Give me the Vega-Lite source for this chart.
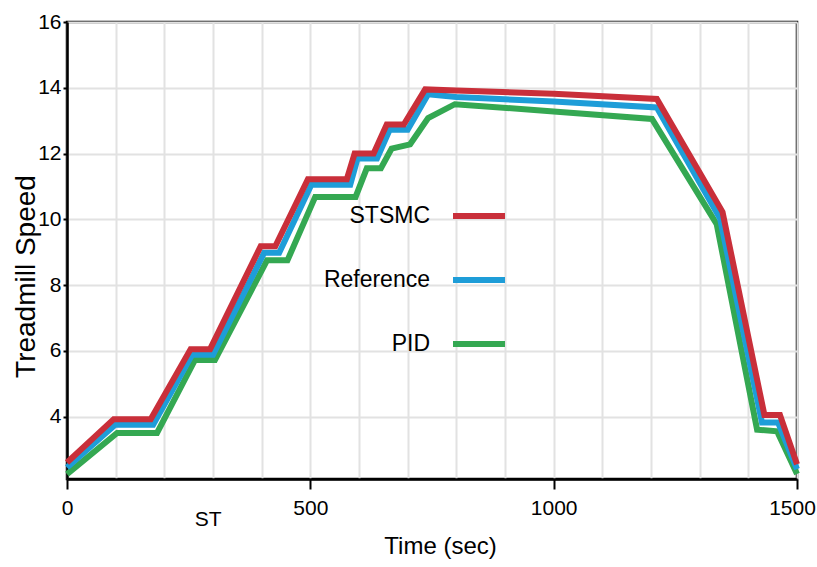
{
  "$schema": "https://vega.github.io/schema/vega-lite/v6.json",
  "width": 730,
  "height": 457,
  "autosize": {"type": "none"},
  "padding": {"left": 67, "top": 22, "right": 20, "bottom": 88},
  "background": "white",
  "config": {
    "view": {"stroke": "black", "strokeWidth": 2.5},
    "axis": {
      "domainColor": "black",
      "domainWidth": 2.5,
      "gridColor": "#e2e2e2",
      "gridWidth": 2,
      "tickColor": "black",
      "labelColor": "black",
      "titleColor": "black",
      "labelFont": "Liberation Sans, Arial",
      "titleFont": "Liberation Sans, Arial"
    }
  },
  "datasets": {
    "speed": [
      {"time": 0, "speed": 2.25, "series": "PID"},
      {"time": 103, "speed": 3.5, "series": "PID"},
      {"time": 185, "speed": 3.5, "series": "PID"},
      {"time": 263, "speed": 5.72, "series": "PID"},
      {"time": 304, "speed": 5.72, "series": "PID"},
      {"time": 411, "speed": 8.75, "series": "PID"},
      {"time": 453, "speed": 8.75, "series": "PID"},
      {"time": 510, "speed": 10.68, "series": "PID"},
      {"time": 593, "speed": 10.68, "series": "PID"},
      {"time": 616, "speed": 11.55, "series": "PID"},
      {"time": 645, "speed": 11.55, "series": "PID"},
      {"time": 667, "speed": 12.15, "series": "PID"},
      {"time": 705, "speed": 12.28, "series": "PID"},
      {"time": 742, "speed": 13.08, "series": "PID"},
      {"time": 797, "speed": 13.5, "series": "PID"},
      {"time": 1000, "speed": 13.28, "series": "PID"},
      {"time": 1202, "speed": 13.05, "series": "PID"},
      {"time": 1335, "speed": 9.85, "series": "PID"},
      {"time": 1418, "speed": 3.6, "series": "PID"},
      {"time": 1459, "speed": 3.55, "series": "PID"},
      {"time": 1500, "speed": 2.25, "series": "PID"},

      {"time": 0, "speed": 2.45, "series": "Reference"},
      {"time": 99, "speed": 3.75, "series": "Reference"},
      {"time": 177, "speed": 3.75, "series": "Reference"},
      {"time": 257, "speed": 5.88, "series": "Reference"},
      {"time": 300, "speed": 5.88, "series": "Reference"},
      {"time": 405, "speed": 8.98, "series": "Reference"},
      {"time": 436, "speed": 8.98, "series": "Reference"},
      {"time": 502, "speed": 11.05, "series": "Reference"},
      {"time": 582, "speed": 11.05, "series": "Reference"},
      {"time": 597, "speed": 11.85, "series": "Reference"},
      {"time": 637, "speed": 11.85, "series": "Reference"},
      {"time": 663, "speed": 12.72, "series": "Reference"},
      {"time": 700, "speed": 12.72, "series": "Reference"},
      {"time": 742, "speed": 13.8, "series": "Reference"},
      {"time": 800, "speed": 13.72, "series": "Reference"},
      {"time": 1000, "speed": 13.58, "series": "Reference"},
      {"time": 1212, "speed": 13.4, "series": "Reference"},
      {"time": 1342, "speed": 10.02, "series": "Reference"},
      {"time": 1428, "speed": 3.82, "series": "Reference"},
      {"time": 1461, "speed": 3.82, "series": "Reference"},
      {"time": 1500, "speed": 2.4, "series": "Reference"},

      {"time": 0, "speed": 2.6, "series": "STSMC"},
      {"time": 96, "speed": 3.92, "series": "STSMC"},
      {"time": 172, "speed": 3.92, "series": "STSMC"},
      {"time": 254, "speed": 6.05, "series": "STSMC"},
      {"time": 294, "speed": 6.05, "series": "STSMC"},
      {"time": 398, "speed": 9.18, "series": "STSMC"},
      {"time": 428, "speed": 9.18, "series": "STSMC"},
      {"time": 495, "speed": 11.22, "series": "STSMC"},
      {"time": 575, "speed": 11.22, "series": "STSMC"},
      {"time": 591, "speed": 12.0, "series": "STSMC"},
      {"time": 630, "speed": 12.0, "series": "STSMC"},
      {"time": 657, "speed": 12.88, "series": "STSMC"},
      {"time": 692, "speed": 12.88, "series": "STSMC"},
      {"time": 736, "speed": 13.95, "series": "STSMC"},
      {"time": 800, "speed": 13.92, "series": "STSMC"},
      {"time": 1000, "speed": 13.82, "series": "STSMC"},
      {"time": 1212, "speed": 13.66, "series": "STSMC"},
      {"time": 1347, "speed": 10.22, "series": "STSMC"},
      {"time": 1433, "speed": 4.05, "series": "STSMC"},
      {"time": 1465, "speed": 4.05, "series": "STSMC"},
      {"time": 1500, "speed": 2.55, "series": "STSMC"}
    ],
    "notes": [{"note": "ST", "time": 290, "speed": 0.85}]
  },
  "layer": [
    {
      "data": {"name": "speed"},
      "mark": {"type": "line", "strokeWidth": 6, "strokeJoin": "miter", "strokeCap": "butt", "clip": false},
      "encoding": {
        "x": {
          "field": "time",
          "type": "quantitative",
          "scale": {"domain": [0, 1500], "nice": false, "zero": false},
          "axis": {
            "values": [0, 100, 200, 300, 400, 500, 600, 700, 800, 900, 1000, 1100, 1200, 1300, 1400, 1500],
            "labelExpr": "datum.value % 500 === 0 ? datum.label : ''",
            "format": "d",
            "tickSize": 10,
            "tickWidth": 2,
            "tickOpacity": {"condition": {"test": "datum.value % 500 === 0", "value": 1}, "value": 0},
            "labelPadding": 8,
            "labelFontSize": 21,
            "labelOffset": {"condition": {"test": "datum.value === 1500", "value": -5}, "value": 0},
            "labelFlush": false,
            "labelOverlap": false,
            "title": "Time (sec)",
            "titleFontSize": 24,
            "titleFontWeight": "normal",
            "titleBaseline": "middle",
            "titleX": 373,
            "titleY": 67
          }
        },
        "y": {
          "field": "speed",
          "type": "quantitative",
          "scale": {"domain": [2.1, 16], "nice": false, "zero": false},
          "axis": {
            "values": [4, 6, 8, 10, 12, 14, 16],
            "tickSize": 4,
            "tickWidth": 2,
            "labelPadding": 2,
            "labelFontSize": 21,
            "labelFlush": false,
            "labelOverlap": false,
            "title": "Treadmill Speed",
            "titleFontSize": 28,
            "titleFontWeight": "normal",
            "titleAngle": -90,
            "titleBaseline": "middle",
            "titleAlign": "center",
            "titleX": -41,
            "titleY": 254
          }
        },
        "color": {
          "field": "series",
          "type": "nominal",
          "scale": {"domain": ["STSMC", "Reference", "PID"], "range": ["#c92f3a", "#1e9dd8", "#34a852"]},
          "legend": {
            "orient": "none",
            "legendX": 383,
            "legendY": 165,
            "title": null,
            "padding": 0,
            "symbolType": "stroke",
            "symbolStrokeWidth": 6,
            "symbolSize": 2704,
            "labelAlign": "right",
            "labelOffset": -78,
            "labelFont": "Liberation Sans, Arial",
            "labelFontSize": 23,
            "labelColor": "black",
            "rowPadding": 23
          }
        },
        "order": {"field": "time", "type": "quantitative"}
      }
    },
    {
      "data": {"name": "notes"},
      "mark": {"type": "text", "font": "Liberation Sans, Arial", "fontSize": 21, "color": "black", "clip": false},
      "encoding": {
        "x": {"field": "time", "type": "quantitative", "scale": {"domain": [0, 1500], "nice": false, "zero": false}},
        "y": {"field": "speed", "type": "quantitative", "scale": {"domain": [2.1, 16], "nice": false, "zero": false}},
        "text": {"field": "note"}
      }
    }
  ]
}
